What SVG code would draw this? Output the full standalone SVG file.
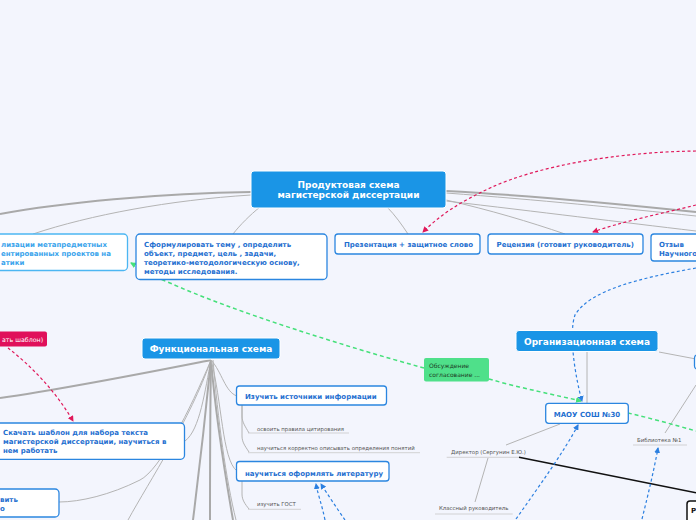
<svg xmlns="http://www.w3.org/2000/svg" width="696" height="520" viewBox="0 0 696 520">
<defs>
<style>
.bg{fill:#f3f5fd}
.main{fill:#1a95e6;stroke:#ffffff;stroke-width:1}
.mt{font-family:"DejaVu Sans",Verdana,sans-serif;font-weight:bold;fill:#ffffff}
.box{fill:#ffffff;stroke:#2b86e0;stroke-width:1.3}
.boxl{fill:#ffffff;stroke:#4cb6f2;stroke-width:1.3}
.bt{font-family:"DejaVu Sans",Verdana,sans-serif;font-weight:bold;font-size:7px;fill:#1f6fd0}
.btl{font-family:"DejaVu Sans",Verdana,sans-serif;font-weight:bold;font-size:7px;fill:#3aa4ec}
.st{font-family:"DejaVu Sans",Verdana,sans-serif;font-size:5.4px;fill:#555555}
.ul{stroke:#c8c8c8;stroke-width:0.8;fill:none}
.thick{stroke:#a9a9a9;stroke-width:2;fill:none}
.thin{stroke:#b4b4b4;stroke-width:1;fill:none}
.pink{stroke:#e0185a;stroke-width:1.2;stroke-dasharray:3,2.5;fill:none}
.blue{stroke:#2b7fe0;stroke-width:1.2;stroke-dasharray:3,2.5;fill:none}
.green{stroke:#45e07a;stroke-width:1.5;stroke-dasharray:4,3;fill:none}
</style>
<marker id="ap" markerWidth="6" markerHeight="6" refX="5" refY="3" orient="auto" markerUnits="userSpaceOnUse"><path d="M0,0 L6,3 L0,6 Z" fill="#e0185a"/></marker>
<marker id="ab" markerWidth="6" markerHeight="6" refX="5" refY="3" orient="auto" markerUnits="userSpaceOnUse"><path d="M0,0 L6,3 L0,6 Z" fill="#2b7fe0"/></marker>
<marker id="ag" markerWidth="6" markerHeight="6" refX="5" refY="3" orient="auto" markerUnits="userSpaceOnUse"><path d="M0,0 L6,3 L0,6 Z" fill="#45e07a"/></marker>
</defs>
<rect class="bg" x="0" y="0" width="696" height="520"/>

<g id="connectors">
<path class="thick" d="M251,192 C160,193 60,203 0,214"/>
<path class="thin" d="M251,195 C170,200 90,215 33,234"/>
<path class="thin" d="M260,207 C250,215 240,225 233,234"/>
<path class="thin" d="M387,207 C395,215 402,225 408,234"/>
<path class="thick" d="M446,191 C540,196 620,204 696,212"/>
<path class="thin" d="M446,193 C540,200 620,208 696,216"/>
<path class="thin" d="M446,200 C490,210 530,222 565,234"/>
<path class="thin" d="M446,201 C540,212 620,222 696,231"/>
<path class="thick" d="M211,360 C150,372 70,388 0,398"/>
<path class="thin" d="M211,360 C205,390 200,430 185,441"/>
<path class="thin" d="M211,360 C190,410 160,470 140,480 C110,495 80,502 59,502"/>
<path class="thin" d="M211,360 C190,420 150,480 128,520"/>
<path class="thick" d="M211,360 C205,420 198,480 193,520"/>
<path class="thick" d="M211,360 C210,420 210,480 210,520"/>
<path class="thick" d="M211,360 C216,420 226,480 233,520"/>
<path class="thin" d="M211,360 C222,372 225,392 237,396"/>
<path class="thin" d="M211,360 C222,400 222,460 237,471"/>
<path class="thin" d="M213,360 C218,420 226,480 236,520"/>
<path class="thin" d="M242,405 L242,416 C242,422 245,426 249,433"/>
<path class="thin" d="M242,405 L242,436 C242,442 245,446 249,452"/>
<path class="thin" d="M242,481 L242,494 C242,500 245,504 249,509"/>
<line class="ul" x1="248" y1="433" x2="349" y2="433"/>
<line class="ul" x1="248" y1="452.7" x2="420" y2="452.7"/>
<line class="ul" x1="248" y1="509.3" x2="301" y2="509.3"/>
<path class="thin" d="M587,352 L587,403"/>
<path class="thin" d="M659,352 L696,359"/>
<path class="thin" d="M560,424 L506,445"/>
<path class="thin" d="M488,458 L475,502"/>
<path class="thin" d="M665,433 L696,385"/>
<line class="ul" x1="446.7" y1="457.3" x2="520" y2="457.3"/>
<line class="ul" x1="435" y1="514" x2="512.7" y2="514"/>
<line class="ul" x1="633" y1="445" x2="687" y2="445"/>
<path d="M519,457.3 L696,492.7" stroke="#111111" stroke-width="1.4" fill="none"/>
<path class="pink" d="M696,151 C620,152 540,165 490,188 C460,202 440,215 423,232" marker-end="url(#ap)"/>
<path class="pink" d="M696,205 C660,214 620,222 593,232" marker-end="url(#ap)"/>
<path class="pink" d="M8,348 C30,365 55,390 73,421" marker-end="url(#ap)"/>
<path class="green" d="M424,368 C340,345 230,310 170,283 C150,275 140,268 131,263" marker-end="url(#ag)"/>
<path class="green" d="M489,379 C520,388 560,396 581,401" marker-end="url(#ag)"/>
<path class="green" d="M628,413 C650,418 675,425 696,431"/>
<path class="blue" d="M696,268 C640,278 590,290 575,315 C568,335 576,380 582,401" marker-end="url(#ab)"/>
<path class="blue" d="M516,519 C540,485 565,450 578,425" marker-end="url(#ab)"/>
<path class="blue" d="M642,519 C648,495 654,470 658,448" marker-end="url(#ab)"/>
<path class="blue" d="M325,520 C322,505 318,495 316,484" marker-end="url(#ab)"/>
<path class="blue" d="M345,520 C338,510 328,495 321,484" marker-end="url(#ab)"/>
</g>

<g id="n-main">
<rect class="main" x="251" y="171" width="195" height="37" rx="3"/>
<text class="mt" font-size="9" x="348.5" y="187.5" text-anchor="middle">Продуктовая схема</text>
<text class="mt" font-size="9" x="348.5" y="197.5" text-anchor="middle">магистерской диссертации</text>
</g>

<g id="n-left">
<rect class="boxl" x="-10" y="234" width="137.5" height="36.5" rx="4"/>
<text class="btl" x="1" y="246.5">лизации метапредметных</text>
<text class="btl" x="1" y="256">ентированных проектов на</text>
<text class="btl" x="1" y="265">атики</text>
</g>

<g id="n-formulate">
<rect class="box" x="136" y="234" width="191" height="45.5" rx="4"/>
<text class="bt" x="144" y="247">Сформулировать тему , определить</text>
<text class="bt" x="144" y="256">объект, предмет, цель , задачи,</text>
<text class="bt" x="144" y="265">теоретико-методологическую основу,</text>
<text class="bt" x="144" y="274">методы исследования.</text>
</g>

<g id="n-present">
<rect class="box" x="335" y="234" width="145" height="20" rx="3"/>
<text class="bt" x="344" y="247">Презентация + защитное слово</text>
</g>

<g id="n-review">
<rect class="box" x="488" y="234" width="155" height="20" rx="3"/>
<text class="bt" x="496.5" y="247">Рецензия (готовит руководитель)</text>
</g>

<g id="n-feedback">
<rect class="box" x="651" y="234" width="60" height="27" rx="3"/>
<text class="bt" x="659" y="247">Отзыв</text>
<text class="bt" x="659" y="256">Научного</text>
</g>

<g id="n-pink">
<rect x="-6" y="331.5" width="53" height="15" rx="2" fill="#e0105a"/>
<text x="2" y="341.5" font-family="DejaVu Sans,Verdana,sans-serif" font-size="6.3" fill="#ffffff">ать шаблон)</text>
</g>

<g id="n-func">
<rect class="main" x="142" y="338" width="138" height="21" rx="3"/>
<text class="mt" font-size="9" x="211" y="352" text-anchor="middle">Функциональная схема</text>
</g>

<g id="n-study">
<rect class="box" x="236.5" y="386" width="150" height="19" rx="3"/>
<text class="bt" x="245" y="399">Изучить источники информации</text>
</g>
<g id="n-cite"><text class="st" x="257" y="431">освоить правила цитирования</text></g>
<g id="n-define"><text class="st" x="257" y="450">научиться корректно описывать определения понятий</text></g>

<g id="n-literature">
<rect class="box" x="236.5" y="461.5" width="152.5" height="19.5" rx="3"/>
<text class="bt" font-size="7.6" x="245" y="475.5">научиться оформлять литературу</text>
</g>
<g id="n-gost"><text class="st" x="257" y="506">изучить ГОСТ</text></g>

<g id="n-template">
<rect class="box" x="-10" y="423" width="194.5" height="36.3" rx="4"/>
<text class="bt" x="3" y="435">Скачать шаблон для набора текста</text>
<text class="bt" x="3" y="444">магистерской диссертации, научиться в</text>
<text class="bt" x="3" y="453">нем работать</text>
</g>

<g id="n-vit">
<rect class="box" x="-10" y="489" width="69" height="28" rx="4"/>
<text class="bt" x="0" y="502">вить</text>
<text class="bt" x="0" y="511">о</text>
</g>

<g id="n-green">
<rect x="424" y="358" width="65" height="23.5" rx="2" fill="#4fe08a"/>
<text x="429" y="368" font-family="DejaVu Sans,Verdana,sans-serif" font-size="6" fill="#1d3b25">Обсуждение</text>
<text x="429" y="376.5" font-family="DejaVu Sans,Verdana,sans-serif" font-size="6" fill="#1d3b25">согласование ...</text>
</g>

<g id="n-org">
<rect class="main" x="516" y="330.5" width="142" height="21" rx="3"/>
<text class="mt" font-size="9" x="587" y="345" text-anchor="middle">Организационная схема</text>
</g>

<g id="n-right-stub">
<rect class="box" x="694.5" y="355" width="20" height="14" rx="3"/>
</g>

<g id="n-maou">
<rect class="box" x="545.7" y="403.3" width="82.6" height="20" rx="3"/>
<text class="bt" font-size="7.8" x="587" y="417" text-anchor="middle">МАОУ СОШ №30</text>
</g>

<g id="n-director"><text class="st" x="451" y="453.5">Директор (Сергунин Е.Ю.)</text></g>
<g id="n-class"><text class="st" x="439" y="510">Классный руководитель</text></g>
<g id="n-library"><text class="st" x="637" y="442">Библиотека №1</text></g>

<g id="n-black">
<rect x="687" y="501" width="30" height="24" rx="3" fill="#ffffff" stroke="#111111" stroke-width="1.5"/>
<text x="691" y="513" font-family="DejaVu Sans,Verdana,sans-serif" font-weight="bold" font-size="7" fill="#111111">Р</text>
</g>
</svg>
